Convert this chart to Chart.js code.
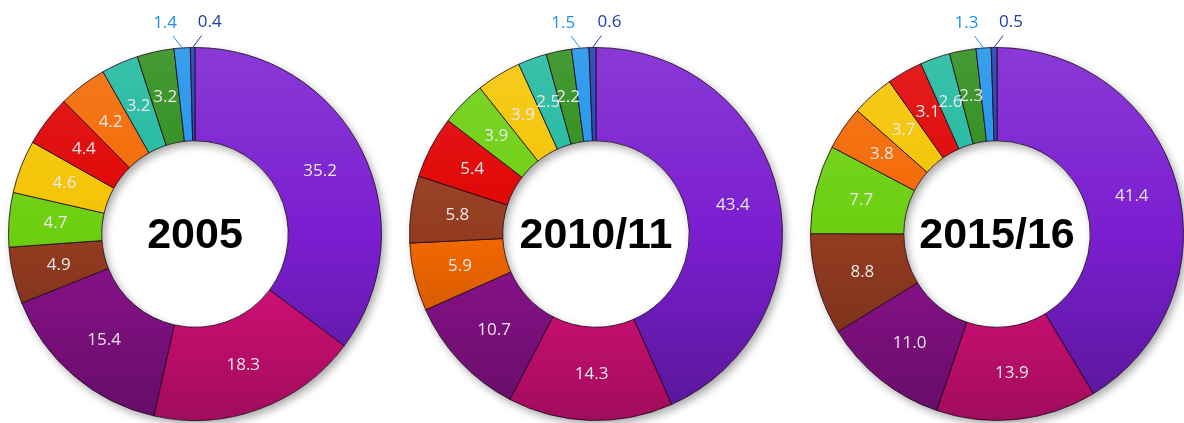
<!DOCTYPE html>
<html>
<head>
<meta charset="utf-8">
<script src="https://cdn.jsdelivr.net/npm/chart.js@4.4.1/dist/chart.umd.min.js"></script>
<style>
  html, body { margin: 0; padding: 0; background: #fff; }
  body { position: relative; width: 1184px; height: 423px; overflow: hidden; }
  .box { position: absolute; top: 0; width: 400px; height: 423px; }
</style>
</head>
<body>
<div class="box" style="left:-5px"><canvas id="donut0"></canvas></div>
<div class="box" style="left:396px"><canvas id="donut1"></canvas></div>
<div class="box" style="left:797px"><canvas id="donut2"></canvas></div>
<script>
// Titres au centre de chaque anneau
var titles = ['2005', '2010/11', '2015/16'];

// Couleur de chaque catégorie
var colours = {
  purple: '#7a1ed0',
  magenta: '#e0107e',
  plum: '#8e128f',
  brown: '#943c20',
  lime: '#6ccf10',
  yellow: '#f4c400',
  red: '#e00202',
  orange: '#f46800',
  teal: '#1fb89e',
  green: '#2c8c1a',
  sky: '#1e92ea',
  navy: '#1e3cae'
};

// Ordre des parts (catégories) pour chaque année
var cats2005 = ['purple', 'magenta', 'plum', 'brown', 'lime', 'yellow', 'red', 'orange', 'teal', 'green', 'sky', 'navy'];
var cats2010 = ['purple', 'magenta', 'plum', 'orange', 'brown', 'red', 'lime', 'yellow', 'teal', 'green', 'sky', 'navy'];
var cats2015 = ['purple', 'magenta', 'plum', 'brown', 'lime', 'orange', 'yellow', 'red', 'teal', 'green', 'sky', 'navy'];

// Valeurs (%)
var values2005 = [35.2, 18.3, 15.4, 4.9, 4.7, 4.6, 4.4, 4.2, 3.2, 3.2, 1.4, 0.4];
var values2010 = [43.4, 14.3, 10.7, 5.9, 5.8, 5.4, 3.9, 3.9, 2.5, 2.2, 1.5, 0.6];
var values2015 = [41.4, 13.9, 11.0, 8.8, 7.7, 3.8, 3.7, 3.1, 2.6, 2.3, 1.3, 0.5];

var allCats = [cats2005, cats2010, cats2015];
var allValues = [values2005, values2010, values2015];

function mix(hex, target, amount) {
  var n = parseInt(hex.slice(1), 16);
  var r = (n >> 16) & 255, g = (n >> 8) & 255, b = n & 255;
  r = Math.round(r + (target - r) * amount);
  g = Math.round(g + (target - g) * amount);
  b = Math.round(b + (target - b) * amount);
  return 'rgb(' + r + ',' + g + ',' + b + ')';
}

// Dégradé vertical clair -> foncé pour l'effet relief
function shaded(cats) {
  return function (c) {
    var base = colours[cats[c.dataIndex]];
    var area = c.chart.chartArea;
    if (!area || !base) return base;
    var g = c.chart.ctx.createLinearGradient(0, area.top, 0, area.bottom);
    g.addColorStop(0, mix(base, 255, 0.12));
    g.addColorStop(0.5, base);
    g.addColorStop(1, mix(base, 0, 0.28));
    return g;
  };
}

// Ombre portée sous l'anneau
var ringShadow = {
  id: 'ringShadow',
  beforeDatasetsDraw: function (chart) {
    var arc = chart.getDatasetMeta(0).data[0];
    if (!arc) return;
    var ctx = chart.ctx;
    ctx.save();
    ctx.shadowColor = 'rgba(0,0,0,0.35)';
    ctx.shadowBlur = 8;
    ctx.shadowOffsetX = 3;
    ctx.shadowOffsetY = 4;
    ctx.fillStyle = '#fff';
    ctx.beginPath();
    ctx.arc(arc.x, arc.y, arc.outerRadius, 0, Math.PI * 2);
    ctx.arc(arc.x, arc.y, arc.innerRadius, 0, Math.PI * 2, true);
    ctx.fill();
    ctx.restore();
  }
};

// Étiquettes des valeurs et titre central
var sliceLabels = {
  id: 'sliceLabels',
  afterDatasetsDraw: function (chart, args, opts) {
    var ctx = chart.ctx;
    var meta = chart.getDatasetMeta(0);
    var ds = chart.data.datasets[0];
    var n = meta.data.length;
    if (!n) return;
    ctx.save();
    ctx.textAlign = 'center';
    ctx.textBaseline = 'middle';
    ctx.font = '17px "Open Sans", sans-serif';
    meta.data.forEach(function (arc, i) {
      var txt = ds.data[i].toFixed(1);
      if (i >= n - 2) {
        // petites parts : étiquette à l'extérieur avec trait de rappel
        var side = i === n - 2 ? -1 : 1;
        var a = (arc.startAngle + arc.endAngle) / 2;
        var px = arc.x + Math.cos(a) * arc.outerRadius;
        var py = arc.y + Math.sin(a) * arc.outerRadius;
        var col = colours[opts.cats[i]];
        ctx.strokeStyle = col;
        ctx.lineWidth = 1;
        ctx.beginPath();
        ctx.moveTo(px, py);
        ctx.lineTo(px + side * 9, py - 12);
        ctx.stroke();
        ctx.fillStyle = col;
        ctx.fillText(txt, px + side * 17, py - 25);
      } else {
        var p = arc.tooltipPosition();
        ctx.fillStyle = '#e8e8e8';
        ctx.fillText(txt, p.x, p.y);
      }
    });
    var c = meta.data[0];
    ctx.fillStyle = '#000';
    ctx.font = 'bold 43px "Liberation Sans", Arial, sans-serif';
    ctx.fillText(opts.title, c.x, c.y + 2);
    ctx.restore();
  }
};

allValues.forEach(function (vals, k) {
  var cats = allCats[k];
  new Chart(document.getElementById('donut' + k), {
    type: 'doughnut',
    data: {
      labels: cats,
      datasets: [{
        data: vals,
        backgroundColor: shaded(cats),
        borderColor: 'rgba(25,5,25,0.8)',
        borderWidth: 1,
        hoverOffset: 0
      }]
    },
    options: {
      responsive: true,
      maintainAspectRatio: false,
      animation: false,
      cutout: '50%',
      layout: { padding: { top: 47, bottom: 2, left: 13, right: 13 } },
      plugins: {
        legend: { display: false },
        tooltip: { enabled: false },
        sliceLabels: { cats: cats, title: titles[k] }
      }
    },
    plugins: [ringShadow, sliceLabels]
  });
});
</script>
</body>
</html>
